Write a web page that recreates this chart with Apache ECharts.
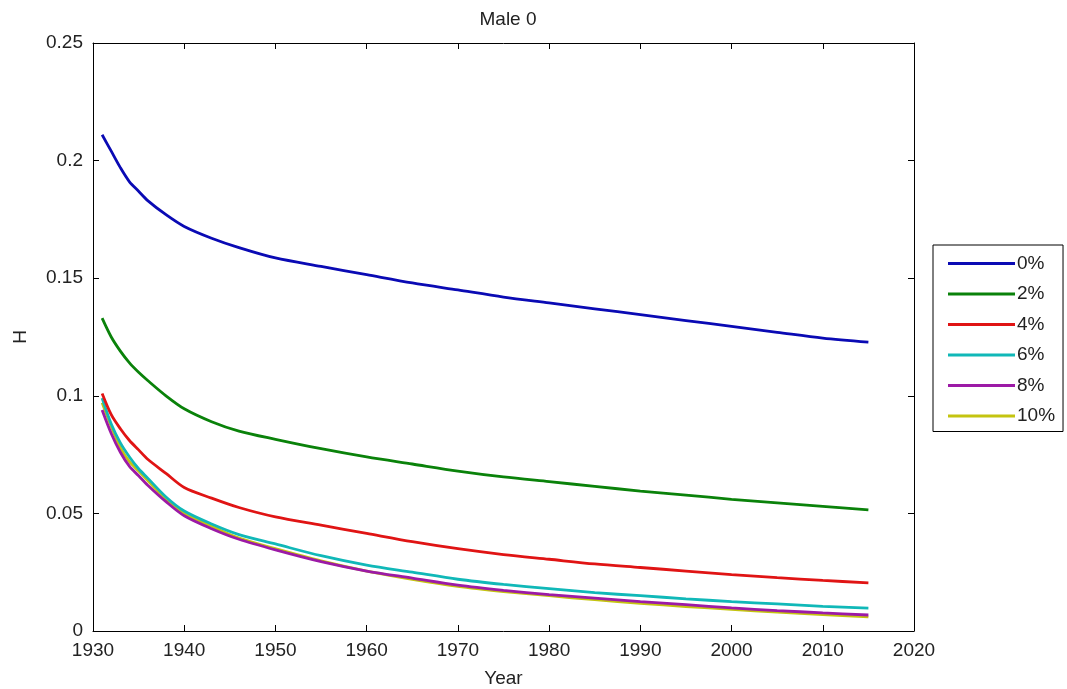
<!DOCTYPE html>
<html>
<head>
<meta charset="utf-8">
<title>Male 0</title>
<script src="https://cdn.jsdelivr.net/npm/echarts@6/dist/echarts.min.js"></script>
<style>
  html, body { margin: 0; padding: 0; background: #fff; }
  #chart { width: 1067px; height: 689px; }
</style>
</head>
<body>
<div id="chart"></div>
<script>
// Sample years (x values) shared by all series
const years = [1931, 1932, 1933, 1934, 1935, 1936, 1938, 1940, 1943, 1946, 1950, 1955,
               1960, 1965, 1970, 1975, 1980, 1985, 1990, 1995, 2000, 2005, 2010, 2015];

// H values for each rate
const h0  = [0.211, 0.204, 0.197, 0.191, 0.187, 0.183, 0.177, 0.172, 0.167, 0.163, 0.1586, 0.155,
             0.1515, 0.148, 0.145, 0.142, 0.1395, 0.137, 0.1345, 0.132, 0.1295, 0.127, 0.1245, 0.1228];
const h2  = [0.133, 0.125, 0.119, 0.114, 0.110, 0.1065, 0.100, 0.0945, 0.089, 0.085, 0.0815, 0.0775,
             0.074, 0.071, 0.068, 0.0655, 0.0635, 0.0615, 0.0595, 0.0578, 0.056, 0.0545, 0.053, 0.0515];
const h4  = [0.101, 0.092, 0.086, 0.081, 0.077, 0.073, 0.067, 0.061, 0.0565, 0.0525, 0.0485, 0.045,
             0.0415, 0.038, 0.035, 0.0325, 0.0305, 0.0285, 0.027, 0.0255, 0.024, 0.0227, 0.0215, 0.0205];
const h6  = [0.099, 0.088, 0.080, 0.074, 0.069, 0.065, 0.057, 0.051, 0.0455, 0.041, 0.037, 0.032,
             0.028, 0.025, 0.022, 0.0198, 0.018, 0.0163, 0.015, 0.0137, 0.0125, 0.0115, 0.0105, 0.0097];
const h8  = [0.094, 0.084, 0.076, 0.070, 0.066, 0.062, 0.055, 0.049, 0.0435, 0.039, 0.0345, 0.0295,
             0.0255, 0.0225, 0.0195, 0.0173, 0.0155, 0.014, 0.0125, 0.0112, 0.0098, 0.0087, 0.0077, 0.0068];
const h10 = [0.097, 0.087, 0.078, 0.072, 0.068, 0.064, 0.056, 0.050, 0.0445, 0.0395, 0.035, 0.0298,
             0.0255, 0.022, 0.019, 0.0168, 0.015, 0.0133, 0.0118, 0.0104, 0.0092, 0.008, 0.007, 0.006];

const seriesNames = ['0%', '2%', '4%', '6%', '8%', '10%'];
const seriesValues = [h0, h2, h4, h6, h8, h10];
const seriesColors = ['#0a0ab4', '#0a820a', '#e01414', '#10b8b8', '#9c1aa6', '#c4c410'];

const FONT = '"Liberation Sans", Arial, sans-serif';
const TXT = { color: '#222', fontFamily: FONT, fontSize: 19 };

// Unlabelled top/right axes that close the plot box
const frameAxis = {
  axisLine: { show: true, onZero: false, lineStyle: { color: '#000', width: 1 } },
  axisTick: { show: true, inside: true, length: 6, lineStyle: { color: '#000' } },
  axisLabel: { show: false },
  splitLine: { show: false }
};

const chart = echarts.init(document.getElementById('chart'), null, { renderer: 'canvas' });

chart.setOption({
  backgroundColor: '#fff',
  animation: false,
  title: {
    text: 'Male 0',
    left: 503, top: 5, textAlign: 'center',
    textStyle: { color: '#222', fontFamily: FONT, fontSize: 19, fontWeight: 'normal' }
  },
  grid: { left: 93, top: 43, right: 153, bottom: 58, containLabel: false, outerBoundsMode: 'none' },
  legend: {
    data: seriesNames,
    orient: 'vertical',
    left: 933, top: 245,
    padding: [9, 8, 6, 15],
    icon: 'rect',
    itemWidth: 67, itemHeight: 3, itemGap: 11.5,
    borderColor: '#000', borderWidth: 1,
    backgroundColor: '#fff',
    textStyle: Object.assign({}, TXT, { padding: [0, 0, 0, -3] })
  },
  xAxis: [
    {
      type: 'value', min: 1930, max: 2020, interval: 10,
      name: 'Year', nameLocation: 'middle', nameGap: 38,
      nameTextStyle: TXT,
      axisLine: { show: true, onZero: false, lineStyle: { color: '#000', width: 1 } },
      axisTick: { show: true, inside: true, length: 6, lineStyle: { color: '#000' } },
      axisLabel: Object.assign({}, TXT, { margin: 10, formatter: v => String(v) }),
      splitLine: { show: false }
    },
    Object.assign({}, frameAxis, { type: 'value', position: 'top', min: 1930, max: 2020, interval: 10 })
  ],
  yAxis: [
    {
      type: 'value', min: 0, max: 0.25, interval: 0.05,
      name: 'H', nameLocation: 'middle', nameGap: 63, nameRotate: 90,
      nameTextStyle: TXT,
      axisLine: { show: true, onZero: false, lineStyle: { color: '#000', width: 1 } },
      axisTick: { show: true, inside: true, length: 6, lineStyle: { color: '#000' } },
      axisLabel: Object.assign({}, TXT, { margin: 10 }),
      splitLine: { show: false }
    },
    Object.assign({}, frameAxis, { type: 'value', position: 'right', min: 0, max: 0.25, interval: 0.05 })
  ],
  series: seriesNames.map((name, i) => ({
    name: name,
    type: 'line',
    xAxisIndex: 0,
    yAxisIndex: 0,
    smooth: 0.3,
    symbol: 'none',
    data: years.map((y, k) => [y, seriesValues[i][k]]),
    lineStyle: { color: seriesColors[i], width: 2.8 },
    itemStyle: { color: seriesColors[i] },
    z: 10 - i
  }))
});
</script>
</body>
</html>
